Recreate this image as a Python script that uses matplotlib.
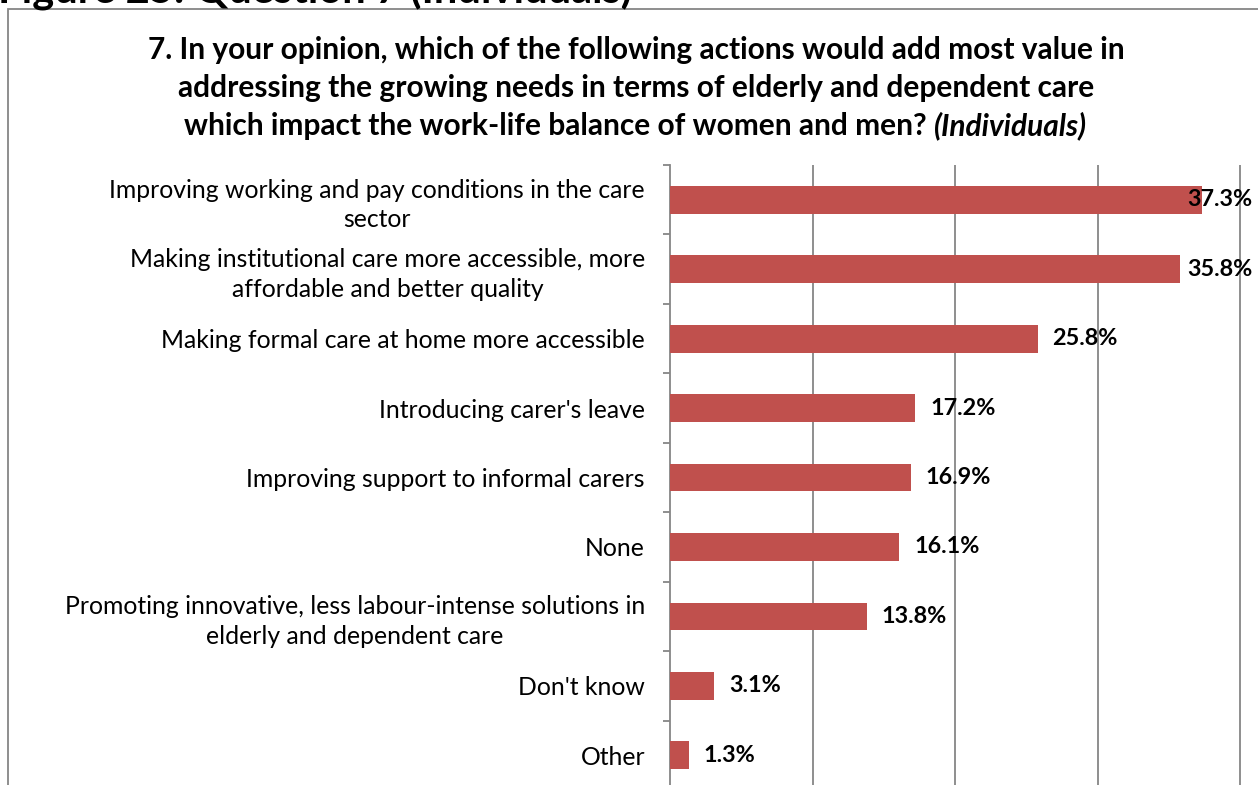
import matplotlib
matplotlib.use("Agg")
import matplotlib.pyplot as plt
from matplotlib.patches import Rectangle

# Question 7 answers (Individuals), top to bottom as in the chart
categories = [
    "Improving working and pay conditions in the care\nsector",
    "Making institutional care more accessible, more\naffordable and better quality",
    "Making formal care at home more accessible",
    "Introducing carer's leave",
    "Improving support to informal carers",
    "None",
    "Promoting innovative, less labour-intense solutions in\nelderly and dependent care",
    "Don't know",
    "Other",
]
shares = [37.3, 35.8, 25.8, 17.2, 16.9, 16.1, 13.8, 3.1, 1.3]
grid_ticks = [10, 20, 30, 40]

title_lines = [
    "7. In your opinion, which of the following actions would add most value in",
    "addressing the growing needs in terms of elderly and dependent care",
    "which impact the work-life balance of women and men? ",
]
title_tail = "(Individuals)"

BAR_COLOR = "#C0504D"
GREY = "#868686"

plt.rcParams["font.family"] = ["Lato", "DejaVu Sans"]

W, H = 1258, 785
fig = plt.figure(figsize=(W / 100, H / 100), dpi=100)

# outer frame of the chart, cut by the page on the right and bottom
fig.patches.append(Rectangle((8 / W, -0.1), 1.2, 1.1 - 9 / H, transform=fig.transFigure,
                             fill=False, edgecolor=GREY, linewidth=1.3))

# the report heading that is cut off by the top edge
fig.text(-2 / W, 1 - 3 / H, "Figure 25: Question 7 (Individuals)", fontsize=30,
         fontweight="bold", ha="left", va="baseline")

# title: three bold lines, centred, the last one ends with an italic tail
renderer = fig.canvas.get_renderer()
for i, line in enumerate(title_lines):
    y = 1 - (50 + 38 * i) / H
    if i < len(title_lines) - 1:
        fig.text(636 / W, y, line, fontsize=21.5, fontweight="bold", ha="center", va="center")
        continue
    t1 = fig.text(0, y, line, fontsize=21.5, fontweight="bold", ha="left", va="center")
    t2 = fig.text(0, y, title_tail, fontsize=21.5, fontweight="bold", style="italic",
                  ha="left", va="center")
    w1 = t1.get_window_extent(renderer).width
    w2 = t2.get_window_extent(renderer).width
    x0 = 636 - (w1 + w2) / 2
    t1.set_x(x0 / W)
    t2.set_x((x0 + w1) / W)

px = 14.25  # pixels per percentage point
ax = fig.add_axes([670 / W, -5 / H, 41 * px / W, 625 / H])
n = len(categories)
pos = list(range(n))
ax.barh(pos, shares, height=0.4, color=BAR_COLOR, zorder=3)
ax.set_ylim(n - 0.5, -0.5)
ax.set_xlim(0, 41)

for p, v in zip(pos, shares):
    ax.text(min(v + 1.05, 36.3), p, f"{v:.1f}%", ha="left", va="center",
            fontsize=16.8, fontweight="bold", zorder=4, clip_on=False)

ax.set_xticks(grid_ticks)
ax.set_xticklabels([])
ax.tick_params(axis="x", length=0)
ax.grid(axis="x", color=GREY, linewidth=1.3, zorder=0)

ax.set_yticks([i - 0.5 for i in range(n + 1)])
ax.set_yticklabels([])
ax.tick_params(axis="y", which="major", length=5, color=GREY, width=1.3)
ax.set_yticks(pos, categories, minor=True)
ax.tick_params(axis="y", which="minor", length=0, pad=18, labelsize=17.8)
for lab in ax.get_yticklabels(minor=True):
    lab.set_horizontalalignment("right")
    lab.set_multialignment("center")
    lab.set_linespacing(1.35)

for s in ["top", "right", "bottom"]:
    ax.spines[s].set_visible(False)
ax.spines["left"].set_color(GREY)
ax.spines["left"].set_linewidth(1.3)

fig.savefig("out.png", dpi=100)
